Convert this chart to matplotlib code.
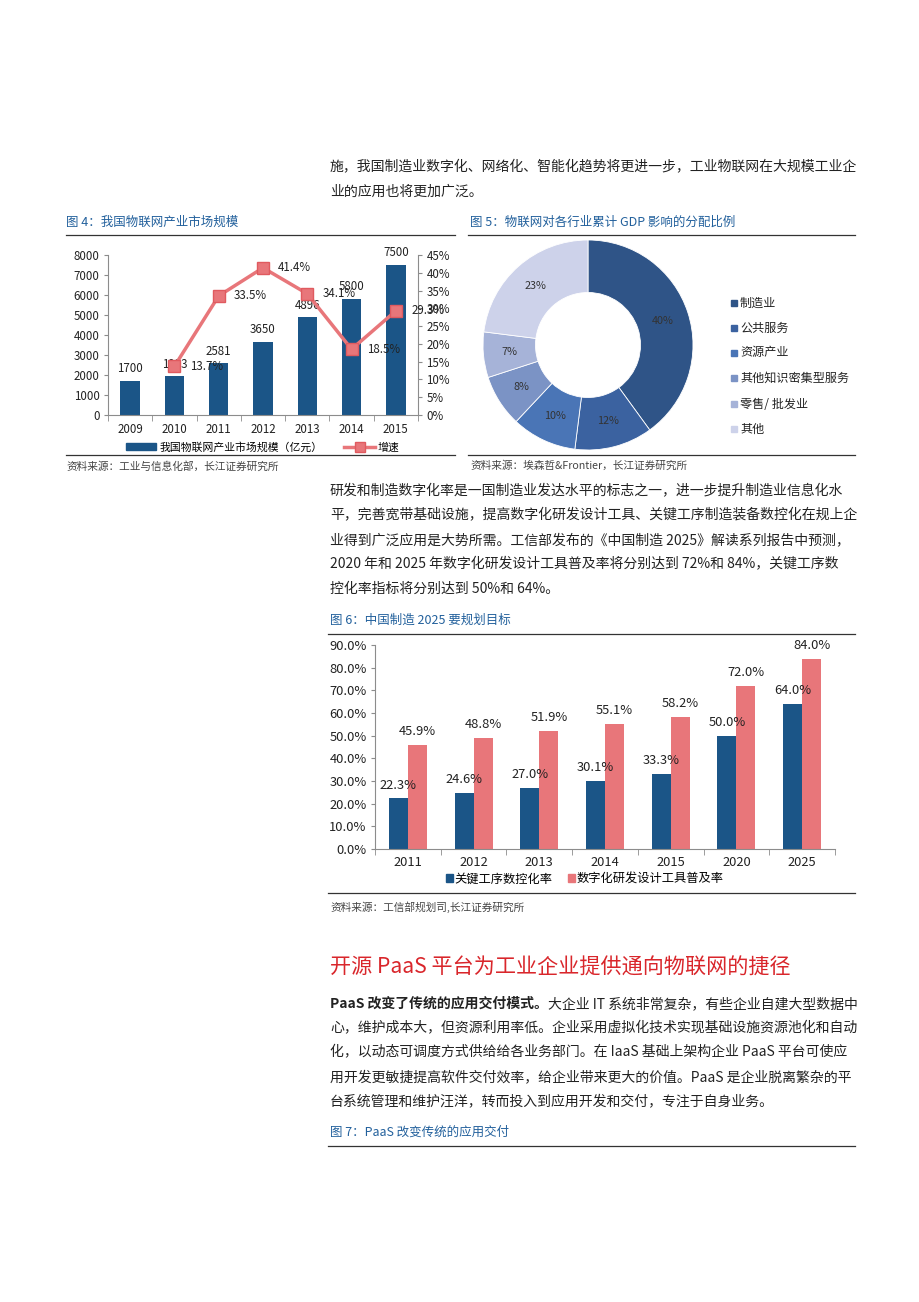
import numpy as np
import matplotlib
matplotlib.use("Agg")
import matplotlib.pyplot as plt
from matplotlib.patches import Patch, Rectangle
from matplotlib.lines import Line2D

plt.rcParams['font.family'] = ['Noto Sans CJK SC', 'DejaVu Sans']

W, H = 920, 1302

# ---- 图4 数据
years4 = ['2009', '2010', '2011', '2012', '2013', '2014', '2015']
market4 = [1700, 1933, 2581, 3650, 4896, 5800, 7500]
growth4 = [13.7, 33.5, 41.4, 34.1, 18.5, 29.3]   # 2010-2015

# ---- 图5 数据
sectors5 = ['制造业', '公共服务', '资源产业', '其他知识密集型服务', '零售/ 批发业', '其他']
shares5 = [40, 12, 10, 8, 7, 23]
colors5 = ['#2f5487', '#3b62a0', '#4a75b6', '#7b93c5', '#a6b3d8', '#cdd2ea']

# ---- 图6 数据
years6 = ['2011', '2012', '2013', '2014', '2015', '2020', '2025']
nc6 = [22.3, 24.6, 27.0, 30.1, 33.3, 50.0, 64.0]
digital6 = [45.9, 48.8, 51.9, 55.1, 58.2, 72.0, 84.0]

# ---- 正文
para1 = ["施，我国制造业数字化、网络化、智能化趋势将更进一步，工业物联网在大规模工业企",
         "业的应用也将更加广泛。"]
para2 = ["研发和制造数字化率是一国制造业发达水平的标志之一，进一步提升制造业信息化水",
         "平，完善宽带基础设施，提高数字化研发设计工具、关键工序制造装备数控化在规上企",
         "业得到广泛应用是大势所需。工信部发布的《中国制造 2025》解读系列报告中预测，",
         "2020 年和 2025 年数字化研发设计工具普及率将分别达到 72%和 84%，关键工序数",
         "控化率指标将分别达到 50%和 64%。"]
heading = "开源 PaaS 平台为工业企业提供通向物联网的捷径"
para3_bold = "PaaS 改变了传统的应用交付模式。"
para3 = ["大企业 IT 系统非常复杂，有些企业自建大型数据中",
         "心，维护成本大，但资源利用率低。企业采用虚拟化技术实现基础设施资源池化和自动",
         "化，以动态可调度方式供给给各业务部门。在 IaaS 基础上架构企业 PaaS 平台可使应",
         "用开发更敏捷提高软件交付效率，给企业带来更大的价值。PaaS 是企业脱离繁杂的平",
         "台系统管理和维护汪洋，转而投入到应用开发和交付，专注于自身业务。"]

BLUE = '#1b5587'
RED = '#e8767a'
TITLE_C = '#22609c'
TXT = '#222222'
SPINE = '#8c8c8c'
FS = 10.0   # 正文字号


def rect(x0, y0, x1, y1):
    return [x0 / W, 1 - y1 / H, (x1 - x0) / W, (y1 - y0) / H]


def fx(x):
    return x / W


def fy(y):
    return 1 - y / H


fig = plt.figure(figsize=(W / 100, H / 100), dpi=100)


def rule(x0, x1, y):
    fig.add_artist(Line2D([fx(x0), fx(x1)], [fy(y), fy(y)], color='#333333', lw=0.9))


def body(lines, x, y0, step=24.5):
    for i, s in enumerate(lines):
        fig.text(fx(x), fy(y0 + i * step), s, fontsize=FS, color=TXT, va='center')


# 正文段落
body(para1, 330, 167)
body(para2, 330, 491)
fig.text(fx(330), fy(968), heading, fontsize=15.2, color='#d9262b', va='center')
tb = fig.text(fx(330), fy(1004), para3_bold, fontsize=FS, color=TXT, va='center', fontweight='bold')
bb = tb.get_window_extent(renderer=fig.canvas.get_renderer())
fig.text(bb.x1 / W, fy(1004), para3[0], fontsize=FS, color=TXT, va='center')
body(para3[1:], 330, 1028)
fig.text(fx(330), fy(1132), "图 7：PaaS 改变传统的应用交付", fontsize=9, color=TITLE_C, va='center')
rule(328, 855, 1146)

# =============================================================================
#  图4
# =============================================================================
fig.text(fx(66), fy(222), "图 4：我国物联网产业市场规模", fontsize=9, color=TITLE_C, va='center')
rule(66, 455, 235)
rule(66, 455, 455)
fig.text(fx(66), fy(466), "资料来源：工业与信息化部，长江证券研究所", fontsize=7.7, color='#444444', va='center')

ax1 = fig.add_axes(rect(108, 255, 418, 415))
xs = np.arange(len(years4))
ax1.bar(xs, market4, width=0.44, color=BLUE, zorder=2)
for x, v in zip(xs, market4):
    ax1.annotate(str(v), (x, v), xytext=(0, 4), textcoords='offset points',
                 ha='center', va='bottom', fontsize=8.3, color=TXT)
ax1.set_xlim(-0.5, 6.5)
ax1.set_ylim(0, 8000)
ax1.set_yticks(range(0, 8001, 1000))
ax1.set_xticks(xs, years4)
ax1.set_xticks(np.arange(-0.5, 7, 1), minor=True)
ax1.tick_params(axis='x', which='major', length=0, pad=6, labelsize=8.3, labelcolor=TXT)
ax1.tick_params(axis='x', which='minor', length=4, color=SPINE)
ax1.tick_params(axis='y', length=3, color=SPINE, labelsize=8.3, labelcolor=TXT, pad=3)
for s in ['top', 'right']:
    ax1.spines[s].set_visible(False)
for s in ['left', 'bottom']:
    ax1.spines[s].set_color(SPINE)

ax2 = ax1.twinx()
ax2.plot(xs[1:], growth4, color=RED, lw=2.5, marker='s', ms=8,
         mfc=RED, mec='#e05a5f', zorder=3)
for x, v in zip(xs[1:], growth4):
    ax2.annotate(f"{v}%", (x, v), xytext=(11, 0), textcoords='offset points',
                 ha='left', va='center', fontsize=8.3, color=TXT)
ax2.set_ylim(0, 45)
ax2.set_yticks(range(0, 46, 5), [f"{v}%" for v in range(0, 46, 5)])
ax2.tick_params(axis='y', length=3, color=SPINE, labelsize=8.3, labelcolor=TXT, pad=3)
for s in ['top', 'left', 'bottom']:
    ax2.spines[s].set_visible(False)
ax2.spines['right'].set_color(SPINE)

fig.legend(handles=[Patch(color=BLUE),
                    Line2D([], [], color=RED, lw=2.5, marker='s', ms=7, mfc=RED, mec='#e05a5f')],
           labels=['我国物联网产业市场规模（亿元）', '增速'],
           ncol=2, loc='center left', bbox_to_anchor=(fx(126), fy(447)), frameon=False,
           fontsize=7.8, handlelength=2.8, handleheight=0.7, handletextpad=0.3,
           columnspacing=2.0, borderpad=0, borderaxespad=0)

# =============================================================================
#  图5
# =============================================================================
fig.text(fx(470), fy(222), "图 5：物联网对各行业累计 GDP 影响的分配比例", fontsize=9, color=TITLE_C, va='center')
rule(468, 855, 235)
rule(468, 855, 455)
fig.text(fx(470), fy(466), "资料来源：埃森哲&Frontier，长江证券研究所", fontsize=7.7, color='#444444', va='center')

axp = fig.add_axes(rect(483, 240, 693, 450))
axp.pie(shares5, colors=colors5, startangle=90, counterclock=False, radius=1,
        wedgeprops=dict(width=0.5, edgecolor='white', linewidth=0.6),
        autopct='%.0f%%', pctdistance=0.75,
        textprops=dict(fontsize=7.8, color='#333333'))
axp.set_xlim(-1, 1)
axp.set_ylim(-1, 1)

leg_y = [303, 328, 353, 378, 404, 429]
for lab, col, y in zip(sectors5, colors5, leg_y):
    fig.add_artist(Rectangle((fx(731), fy(y + 3)), 6 / W, 6 / H,
                             transform=fig.transFigure, color=col))
    fig.text(fx(740), fy(y), lab, fontsize=8.7, color=TXT, va='center')

# =============================================================================
#  图6
# =============================================================================
fig.text(fx(330), fy(620), "图 6：中国制造 2025 要规划目标", fontsize=9, color=TITLE_C, va='center')
rule(328, 855, 634)
rule(328, 855, 893)
fig.text(fx(330), fy(907), "资料来源：工信部规划司,长江证券研究所", fontsize=7.7, color='#444444', va='center')

ax3 = fig.add_axes(rect(375, 645, 835, 849))
xs6 = np.arange(len(years6))
w = 0.29
ax3.bar(xs6 - w / 2, nc6, w, color=BLUE, zorder=2)
ax3.bar(xs6 + w / 2, digital6, w, color=RED, zorder=2)
for x, v in zip(xs6 - w / 2, nc6):
    ax3.annotate(f"{v:.1f}%", (x, v), xytext=(0, 5), textcoords='offset points',
                 ha='center', va='bottom', fontsize=9.3, color=TXT)
for x, v in zip(xs6 + w / 2, digital6):
    ax3.annotate(f"{v:.1f}%", (x, v), xytext=(0, 5), textcoords='offset points',
                 ha='center', va='bottom', fontsize=9.3, color=TXT)
ax3.set_xlim(-0.5, 6.5)
ax3.set_ylim(0, 90)
ax3.set_yticks(range(0, 91, 10), [f"{v:.1f}%" for v in range(0, 91, 10)])
ax3.set_xticks(xs6, years6)
ax3.set_xticks(np.arange(-0.5, 7, 1), minor=True)
ax3.tick_params(axis='x', which='major', length=0, pad=5, labelsize=9.3, labelcolor=TXT)
ax3.tick_params(axis='x', which='minor', length=4, color=SPINE)
ax3.tick_params(axis='y', length=3, color=SPINE, labelsize=9.3, labelcolor=TXT, pad=3)
for s in ['top', 'right']:
    ax3.spines[s].set_visible(False)
for s in ['left', 'bottom']:
    ax3.spines[s].set_color(SPINE)

fig.legend(handles=[Patch(color=BLUE), Patch(color=RED)],
           labels=['关键工序数控化率', '数字化研发设计工具普及率'],
           ncol=2, loc='center left', bbox_to_anchor=(fx(446), fy(879)), frameon=False,
           fontsize=8.8, handlelength=0.55, handleheight=0.55, handletextpad=0.15,
           columnspacing=1.3, borderpad=0, borderaxespad=0)

fig.savefig("out.png", dpi=100)
